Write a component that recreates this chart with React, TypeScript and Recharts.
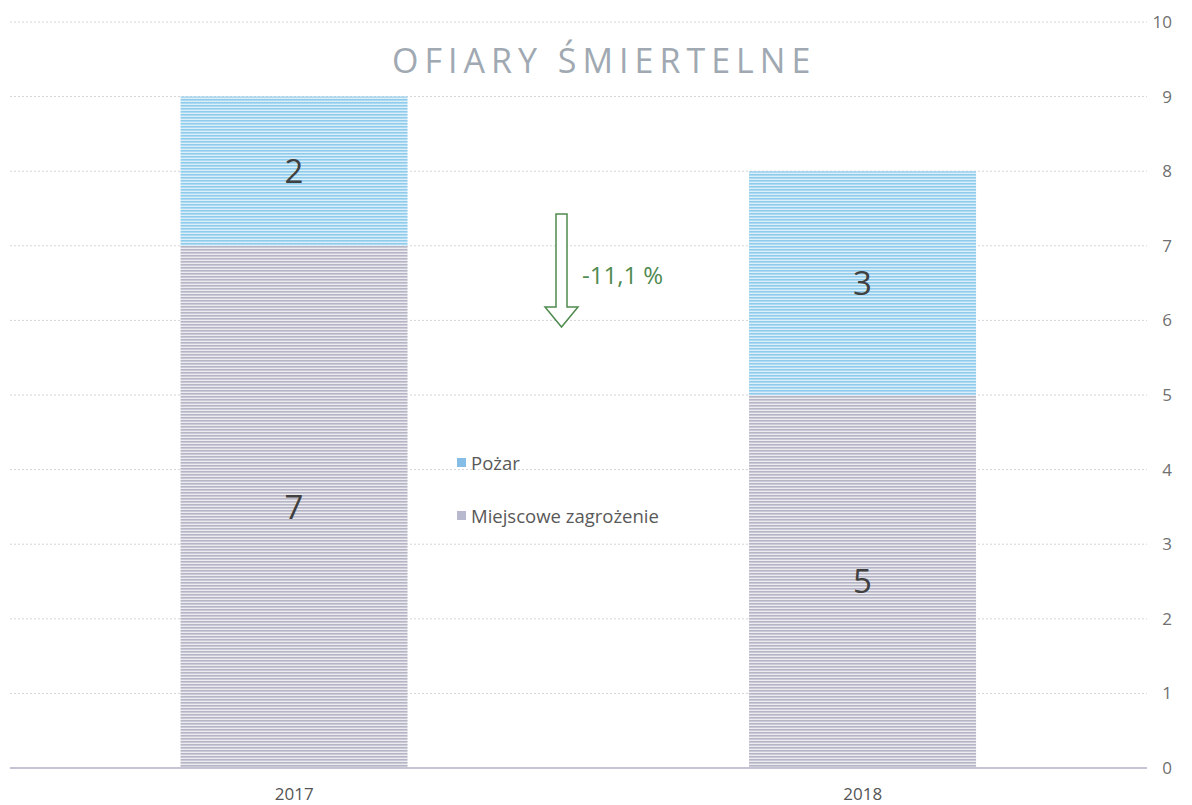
import React from "react";
import {
  BarChart,
  Bar,
  XAxis,
  YAxis,
  CartesianGrid,
  LabelList,
} from "recharts";

const years = ["2017", "2018"];
const pozar = [2, 3];
const miejscowe = [7, 5];
const yTicks = [0, 1, 2, 3, 4, 5, 6, 7, 8, 9, 10];

const data = years.map((year, i) => ({
  year,
  pozar: pozar[i],
  miejscowe: miejscowe[i],
}));

const FONT = "'Open Sans', 'Noto Sans', sans-serif";

const legendItems = [
  { label: "Pożar", color: "#86bde6" },
  { label: "Miejscowe zagrożenie", color: "#b8b8cf" },
];

const ChartLegend = () => (
  <div
    style={{
      position: "absolute",
      left: 457,
      top: 449,
      fontFamily: FONT,
      fontSize: 18.5,
      color: "#595959",
      pointerEvents: "none",
    }}
  >
    {legendItems.map((item) => (
      <div
        key={item.label}
        style={{ display: "flex", alignItems: "center", height: 26, marginBottom: 27 }}
      >
        <span
          style={{
            display: "inline-block",
            width: 9,
            height: 9,
            background: item.color,
            marginRight: 5,
          }}
        />
        {item.label}
      </div>
    ))}
  </div>
);

export default function App() {
  return (
    <div style={{ position: "absolute", left: 0, top: 0, width: 1192, height: 805 }}>
      <BarChart
        width={1192}
        height={805}
        data={data}
        margin={{ top: 22, right: 0, bottom: 0, left: 10 }}
        barCategoryGap="30%"
      >
        <defs>
          <pattern id="bluePat" patternUnits="userSpaceOnUse" width="4" height="3">
            <rect width="4" height="3" fill="#dbeff9" />
            <rect width="4" height="1.6" fill="#8fcbec" />
          </pattern>
          <pattern id="grayPat" patternUnits="userSpaceOnUse" width="4" height="3">
            <rect width="4" height="3" fill="#ebebf0" />
            <rect width="4" height="1.6" fill="#b5b5c6" />
          </pattern>
        </defs>
        <CartesianGrid vertical={false} stroke="#d4d4d8" strokeDasharray="2 2" />
        <XAxis
          dataKey="year"
          height={37}
          tickLine={false}
          axisLine={{ stroke: "#c4c4d4", strokeWidth: 2 }}
          tickMargin={14}
          tick={{ fontSize: 17, fill: "#555", fontFamily: FONT }}
        />
        <YAxis
          orientation="right"
          width={45}
          domain={[0, 10]}
          ticks={yTicks}
          interval={0}
          axisLine={false}
          tickLine={false}
          tickMargin={19}
          tick={{ fontSize: 17, fill: "#707070", fontFamily: FONT, textAnchor: "end" }}
        />
        <Bar dataKey="miejscowe" stackId="a" fill="url(#grayPat)" isAnimationActive={false}>
          <LabelList
            dataKey="miejscowe"
            position="center"
            fill="#404040"
            fontSize={33}
            fontFamily={FONT}
          />
        </Bar>
        <Bar dataKey="pozar" stackId="a" fill="url(#bluePat)" isAnimationActive={false}>
          <LabelList
            dataKey="pozar"
            position="center"
            fill="#404040"
            fontSize={33}
            fontFamily={FONT}
          />
        </Bar>
      </BarChart>
      <ChartLegend />
      <div
        style={{
          position: "absolute",
          left: 392,
          top: 37,
          fontFamily: FONT,
          fontSize: 34,
          letterSpacing: 6,
          color: "#a0a9b2",
          whiteSpace: "nowrap",
          pointerEvents: "none",
        }}
      >
        OFIARY ŚMIERTELNE
      </div>
      <svg
        style={{ position: "absolute", left: 0, top: 0, pointerEvents: "none" }}
        width={1192}
        height={805}
      >
        <path
          d="M556 214 L567 214 L567 307 L578 307 L561.5 327 L545 307 L556 307 Z"
          fill="white"
          stroke="#4f8a4f"
          strokeWidth={1.5}
        />
        <text x={582} y={284} fontSize={24} fill="#4f8a4f" fontFamily={FONT}>
          -11,1 %
        </text>
      </svg>
    </div>
  );
}
